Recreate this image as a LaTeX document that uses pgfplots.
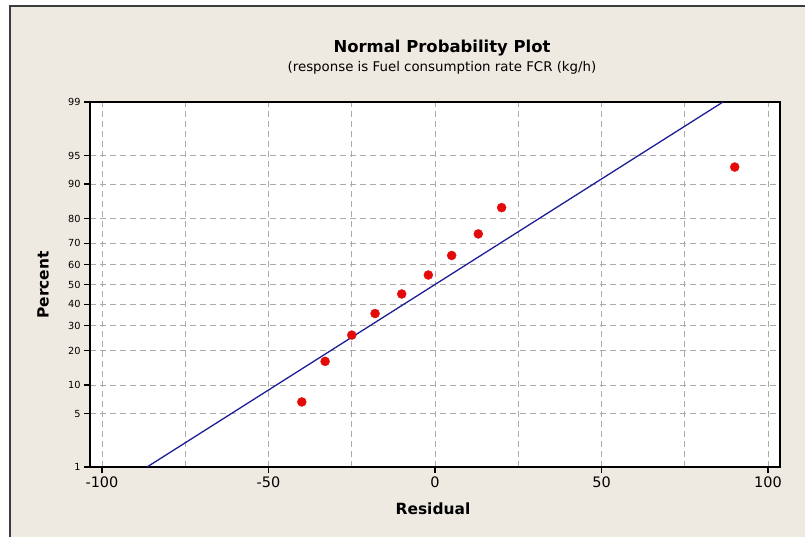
\documentclass[border=0pt]{standalone}
\usepackage{pgfplots}
\pgfplotsset{compat=1.18}
\usepackage{fontspec}
\setmainfont{DejaVu Sans}
\definecolor{bgbeige}{RGB}{238,234,225}
\definecolor{framegray}{RGB}{60,60,60}
\definecolor{fitblue}{RGB}{30,30,150}
\definecolor{ptred}{RGB}{228,10,10}
\definecolor{gridgray}{RGB}{170,170,170}

% percent -> normal quantile, Minitab style (i-0.3)/(n+0.4)
\pgfplotstableread{
res    z
-40  -1.497
-33  -0.980
-25  -0.645
-18  -0.370
-10  -0.121
-2    0.121
5     0.370
13    0.645
20    0.980
90    1.497
}\residuals

\begin{document}
\begin{tikzpicture}
\useasboundingbox (0,0) rectangle (805bp,537bp);
\fill[white] (0,0) rectangle (805bp,537bp);
\fill[bgbeige] (10bp,0) rectangle (805bp,531bp);
\draw[framegray, line width=2.2bp] (10bp,0) -- (10bp,531bp) -- (805bp,531bp);

\begin{axis}[
  at={(90bp,70bp)}, anchor=south west,
  scale only axis, width=690bp, height=365bp,
  xmin=-103.6, xmax=103.6,
  ymin=-2.3263, ymax=2.3263,
  axis background/.style={fill=white},
  xtick={-100,-50,0,50,100},
  xticklabels={-100,-50,0,50,100},
  minor xtick={-75,-25,25,75},
  ytick={-2.3263,-1.6449,-1.2816,-0.8416,-0.5244,-0.2533,0,0.2533,0.5244,0.8416,1.2816,1.6449,2.3263},
  yticklabels={1,5,10,20,30,40,50,60,70,80,90,95,99},
  tick pos=left, tick align=outside,
  major tick length=6bp, minor tick length=0pt,
  grid=both,
  major grid style={gridgray, dash pattern=on 6bp off 4bp, line width=0.8bp},
  minor grid style={gridgray, dash pattern=on 6bp off 4bp, line width=0.8bp},
  axis line style={black, line width=1.5bp},
  major tick style={black, line width=1.2bp},
  xticklabel style={font=\fontsize{14.5}{16}\selectfont, text=black},
  yticklabel style={font=\fontsize{9.8}{11}\selectfont, text=black},
]
\addplot[fitblue, line width=1.3bp] coordinates {(-86.47,-2.3263) (86.47,2.3263)};
\addplot[only marks, mark=*, mark size=4.5bp, color=ptred] table[x=res, y=z] {\residuals};
\end{axis}

\node[anchor=base, font=\bfseries\fontsize{16.5}{18}\selectfont] at (442bp,484bp) {Normal Probability Plot};
\node[anchor=base, font=\fontsize{13.4}{15}\selectfont] at (442bp,465bp) {(response is Fuel consumption rate FCR (kg/h)};
\node[font=\bfseries\fontsize{15.5}{17}\selectfont] at (433bp,28bp) {Residual};
\node[rotate=90, font=\bfseries\fontsize{15.5}{17}\selectfont] at (43bp,252bp) {Percent};
\end{tikzpicture}
\end{document}
